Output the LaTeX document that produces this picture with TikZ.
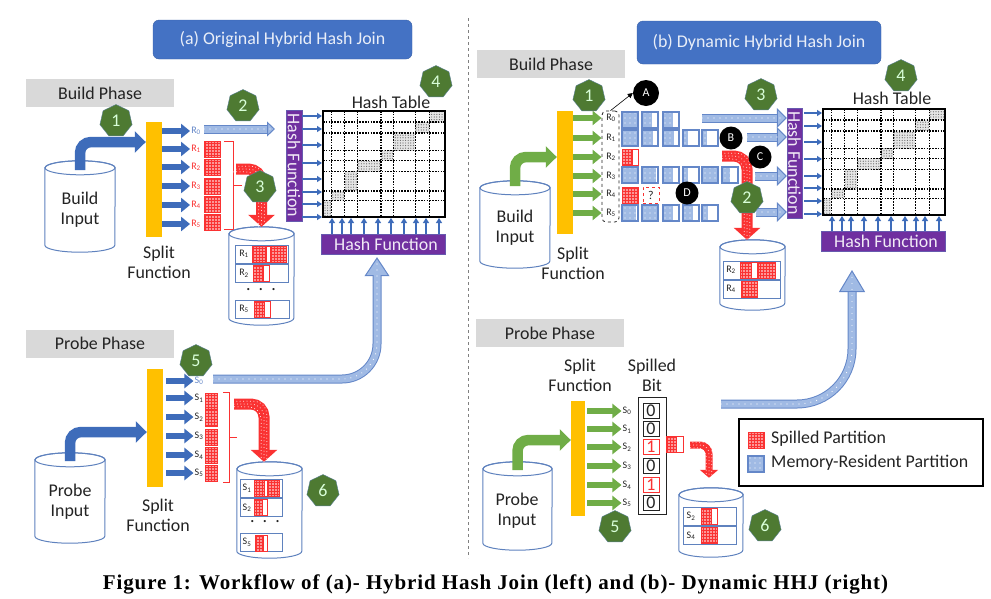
\documentclass[tikz,border=0pt]{standalone}
\usepackage{fontspec}
\setmainfont{Carlito}
\newfontfamily\capfont[LetterSpace=4.2]{Liberation Serif}
\usepackage{tikz}
\usepackage{xcolor}
\usetikzlibrary{arrows.meta,patterns.meta}
\usetikzlibrary{shapes.geometric}
\definecolor{titleblue}{RGB}{68,114,196}
\definecolor{flowblue}{RGB}{62,108,186}
\definecolor{flowgreen}{RGB}{112,173,71}
\definecolor{badgegreen}{RGB}{78,122,50}
\definecolor{splitorange}{RGB}{255,192,0}
\definecolor{hashpurple}{RGB}{112,48,160}
\definecolor{spillred}{RGB}{250,50,50}
\definecolor{memfill}{RGB}{160,186,228}
\definecolor{memedge}{RGB}{100,135,200}
\definecolor{cyledge}{RGB}{95,130,190}
\definecolor{inkgray}{RGB}{35,35,35}
\newcommand{\bigfont}{\fontsize{17.9}{20}\selectfont}
\newcommand{\tinyfont}{\fontsize{10}{11}\selectfont}
\newcommand{\drum}[2]{%
    \draw[draw=cyledge, fill=white, line width=1] ([yshift=-7pt]#1.north west) -- ([yshift=7pt]#1.south west)
        arc[start angle=180, end angle=0, x radius=#2, y radius=7] -- ([yshift=-7pt]#1.north east)
        arc[start angle=0, end angle=-180, x radius=#2, y radius=7] -- cycle;
    \draw[draw=cyledge, line width=1] ([yshift=-7pt]#1.north) ellipse [x radius=#2, y radius=7];
}
\tikzset{
  phasebox/.style={fill=gray!30, minimum width=148, minimum height=28, inner sep=0, text=inkgray, font=\bigfont},
  titlebox/.style={fill=titleblue, draw=titleblue!85!black, rounded corners=6, inner sep=0, text=white!88!titleblue, font=\bigfont},
  badge/.style={regular polygon, regular polygon sides=7, fill=badgegreen, draw=cyledge!70!badgegreen, minimum size=33, inner sep=0, text=white!85!green, font=\bigfont},
  blackdot/.style={circle, fill=black, minimum size=23, inner sep=0, text=white, font=\fontsize{12}{13}\selectfont},
  store/.style={inner sep=0},
  splitbar/.style={fill=splitorange, inner sep=0, minimum width=16},
  hashbox/.style={fill=hashpurple, draw=cyledge!50!hashpurple, inner sep=0, text=white!90!hashpurple, font=\bigfont},
  plain/.style={inner sep=0, text=inkgray, align=center, font=\bigfont},
  partlabel/.style={inner sep=1, font=\tinyfont},
  diskrow/.style={draw=cyledge, fill=white, line width=1, inner sep=0, minimum height=18},
  spillcell/.style={preaction={fill=spillred}, pattern={Dots[radius=.8pt, distance=3pt]}, pattern color=white, draw=spillred},
  memcell/.style={preaction={fill=memfill}, pattern={Dots[radius=.7pt, distance=5pt]}, pattern color=white},
  memframe/.style={draw=memedge, line width=1.2},
  tablecell/.style={preaction={fill=gray!20}, pattern={Dots[radius=.6pt, distance=2.6pt]}, pattern color=black!60},
  tablegrid/.style={line width=1.4, dash pattern=on 1.5pt off 1.3pt},
  bigflow/.style={line width=10.5, rounded corners=11, -{Triangle[length=11pt,width=21pt]}},
  smallflow/.style={line width=6, -{Triangle[length=9pt,width=14pt]}},
  hasharrow/.style={draw=flowblue, line width=2, -{Triangle[length=5pt,width=6pt]}},
  memflow/.style n args={2}{draw=memedge, line width=9, -{Triangle[length=#1pt,width=#2pt,fill=memfill,line width=1pt]},
    postaction={draw=memfill, line width=7, -, shorten >=#1pt},
    postaction={draw=white, line width=1.2, line cap=round, dash pattern=on 0pt off 6pt, -, shorten >=4}},
  spillflow/.style={draw=spillred, line width=11, rounded corners=13, -{Triangle[length=12pt,width=26pt]},
    postaction={draw=white, line width=1, line cap=round, dash pattern=on 0pt off 3.4pt, -},
    postaction={transform canvas={shift={(2.8pt,2.8pt)}}, draw=white, line width=1, line cap=round, dash pattern=on 0pt off 3.4pt, -},
    postaction={transform canvas={shift={(-2.8pt,-2.8pt)}}, draw=white, line width=1, line cap=round, dash pattern=on 0pt off 3.4pt, -}},
}

\begin{document}
\begin{tikzpicture}[x=1pt, y=-1pt]
    \useasboundingbox (0,0) rectangle (991,598);

    % titles and divider
    \node[titlebox, minimum width=259, minimum height=39] (titleL) at (282.5,39.5) {(a) Original Hybrid Hash Join};
    \node[titlebox, minimum width=244, minimum height=43] (titleR) at (759,42.5) {(b) Dynamic Hybrid Hash Join};
    \draw[gray, dashed, line width=0.8] (468,18) -- (468,558);
    \node[phasebox] (buildL) at (100,93) {Build Phase};
    \node[phasebox] (probeL) at (100,343.5) {Probe Phase};
    \node[phasebox] (buildR) at (551,64) {Build Phase};
    \node[phasebox] (probeR) at (550,333) {Probe Phase};

    % hash tables
    \foreach \tx/\ty/\tname in {323/111/tableL, 823/109/tableR} {
        \begin{scope}[shift={(\tx,\ty)}]
            \foreach \xa/\xb/\ya/\yb in {0/8.4/89.2/106, 8.4/21.7/80.1/89.2, 21.7/34.4/60.6/80.1, 34.4/57.8/49.5/60.6, 57.8/70.2/39.7/49.5, 70.2/92.2/21.9/39.7, 92.2/106.3/11.1/21.9, 106.3/122/0/11.1}
                \path[tablecell] (\xa,\ya) rectangle (\xb,\yb);
            \foreach \gx in {8.4,21.7,34.4,57.8,70.2,92.2,106.3}
                \draw[tablegrid] (\gx,0) -- (\gx,106);
            \foreach \gy in {11.1,21.9,39.7,49.5,60.6,80.1,89.2}
                \draw[tablegrid] (0,\gy) -- (122,\gy);
            \node[draw, line width=2, minimum width=122, minimum height=106, inner sep=0] (\tname) at (61,53) {};
        \end{scope}
    }
    \node[plain] (tabletextL) at (391,102) {Hash Table};
    \node[plain] (tabletextR) at (892,98) {Hash Table};
    \node[hashbox, minimum width=111, minimum height=16, rotate=-90] (hashsideL) at (294,165.5) {Hash Function};
    \node[hashbox, minimum width=110, minimum height=15, rotate=-90] (hashsideR) at (794.5,163) {Hash Function};
    \node[hashbox, minimum width=124, minimum height=20] (hashlowL) at (383,244) {\hspace{6pt}Hash Function};
    \node[hashbox, minimum width=124, minimum height=20] (hashlowR) at (883,241) {\hspace{6pt}Hash Function};
    \foreach \yy in {116,129,145,163,179,192,204,217}
        \draw[hasharrow] (hashsideL.north |- 0,\yy) -- (tableL.west |- 0,\yy);
    \foreach \yy in {113,126,142,159,176,188,201,214}
        \draw[hasharrow, shorten <=2] (hashsideR.north |- 0,\yy) -- (tableR.west |- 0,\yy);
    \foreach \xx in {332,342,351,364,378,391,404,416,426,439}
        \draw[hasharrow] (\xx,0 |- hashlowL.north) -- (\xx,0 |- tableL.south);
    \foreach \xx in {832,842,851,864,878,891,905,916,925,939}
        \draw[hasharrow] (\xx,0 |- hashlowR.north) -- (\xx,0 |- tableR.south);

    % build phase, left
    \node[store, minimum width=70, minimum height=91] (inputBL) at (80,206.5) {};
    \drum{inputBL}{35}
    \node[plain] (inputtextBL) at (80,210) {Build\\Input};
    \node[splitbar, minimum height=115] (splitBL) at (154,179.5) {};
    \node[plain] (splittextBL) at (159,262) {Split\\Function};
    \draw[bigflow, flowblue] (inputBL.center |- 0,170) |- (splitBL.west |- 0,142);
    \foreach \i/\yy in {0/131, 1/149, 2/167, 3/186, 4/205, 5/224} {
        \node[partlabel, text=spillred] (rL\i) at (196,\yy) {R\textsubscript{\i}};
        \draw[smallflow, flowblue] (splitBL.east |- rL\i) -- (rL\i.west);
    }
    \node[partlabel, text=memedge, fill=white] at (rL0) {R\textsubscript{0}};
    \foreach \yy in {149,167,186,204,222}
        \draw[spillcell] (204,\yy-8) rectangle ++(16,16);
    \draw[spillred, line width=0.8] (224,141) -- (233,141) -- (233,229) -- (224,229) (233,185) -- (242,185);
    \coordinate (spillstartBL) at (236,169);
    \node[store, minimum width=65, minimum height=98] (diskBL) at (261.5,276) {};
    \drum{diskBL}{32.5}
    \draw[spillflow] (spillstartBL) -| (diskBL.north);
    \coordinate (memstartBL) at (204,129);
    \coordinate (memendBL) at (275,129);
    \draw[memflow={8}{15}] (memstartBL) -- (memendBL);

    \node[diskrow, minimum width=53] (rowR1) at (261.5,254) {};
    \node[diskrow, minimum width=53] (rowR2) at (261.5,273.5) {};
    \node[diskrow, minimum width=54] (rowR5) at (262,309) {};
    \node[partlabel, text=inkgray] at (244,0 |- rowR1) {R\textsubscript{1}};
    \node[partlabel, text=inkgray] at (244,0 |- rowR2) {R\textsubscript{2}};
    \node[partlabel, text=inkgray] at (244,0 |- rowR5) {R\textsubscript{5}};
    \node[plain] (dotsBL) at (261,290) {.\ \ .\ \ .};
    \foreach \px/\py/\pw/\pf in {252/246/18/14, 270/246/16/16, 253/265/16/10, 254/301/16/10} {
        \draw[spillred, fill=white] (\px,\py) rectangle ++(\pw,16);
        \draw[spillcell] (\px,\py) rectangle ++(\pf,16);
    }

    % probe phase, left
    \node[store, minimum width=70, minimum height=90] (inputPL) at (70,498) {};
    \drum{inputPL}{35}
    \node[plain] (inputtextPL) at (70,502) {Probe\\Input};
    \node[splitbar, minimum height=118] (splitPL) at (155,428) {};
    \node[plain] (splittextPL) at (158,515) {Split\\Function};
    \draw[bigflow, flowblue] (inputPL.center |- 0,461) |- (splitPL.west |- 0,432);
    \foreach \i/\yy in {0/381, 1/398, 2/417, 3/436, 4/455, 5/473} {
        \node[partlabel, text=inkgray] (sL\i) at (199,\yy) {S\textsubscript{\i}};
        \draw[smallflow, flowblue] (splitPL.east |- sL\i) ++(3,0) -- (sL\i.west);
    }
    \node[partlabel, text=memedge, fill=white] at (sL0) {S\textsubscript{0}};
    \foreach \yy in {401,418,437,455,473}
        \draw[spillcell] (205,\yy-8) rectangle ++(12,16);
    \draw[spillred, line width=0.8] (223,392) -- (229,392) -- (229,482) -- (223,482) (229,437) -- (237,437);
    \coordinate (spillstartPL) at (234,404);
    \node[store, minimum width=65, minimum height=96] (diskPL) at (269.5,510) {};
    \drum{diskPL}{32.5}
    \draw[spillflow] (spillstartPL) -| (diskPL.north -| 264,0);
    \coordinate (memstartPL) at (213,379);
    \draw[memflow={19}{25}, rounded corners=35, shorten >=3] (memstartPL) -| (hashlowL.south -| 377,0);

    \node[diskrow, minimum width=42] (rowS1) at (261,488) {};
    \node[diskrow, minimum width=42] (rowS2) at (261,507.5) {};
    \node[diskrow, minimum width=42] (rowS5) at (261,542.5) {};
    \node[partlabel, text=inkgray] at (247,0 |- rowS1) {S\textsubscript{1}};
    \node[partlabel, text=inkgray] at (247,0 |- rowS2) {S\textsubscript{2}};
    \node[partlabel, text=inkgray] at (247,0 |- rowS5) {S\textsubscript{5}};
    \node[plain] (dotsPL) at (265,522) {.\ \ .\ \ .};
    \foreach \px/\py/\pw/\pf in {254/480/13/10, 267/480/12/12, 254/499/13/8, 255/535/12/8} {
        \draw[spillred, fill=white] (\px,\py) rectangle ++(\pw,16);
        \draw[spillcell] (\px,\py) rectangle ++(\pf,16);
    }

    % build phase, right
    \node[store, minimum width=70, minimum height=87] (inputBR) at (515,224.5) {};
    \drum{inputBR}{35}
    \node[plain] (inputtextBR) at (515,227.5) {Build\\Input};
    \node[splitbar, minimum height=123] (splitBR) at (565,172.5) {};
    \node[plain] (splittextBR) at (573,263) {Split\\Function};
    \draw[bigflow, flowgreen] (inputBR.center |- 0,186) |- (splitBR.west |- 0,157);
    \node[draw=inkgray, dashed, rounded corners=4, line width=0.8, minimum width=17, minimum height=111, inner sep=0] (partgroup) at (610.5,166.5) {};
    \foreach \i/\yy in {0/118, 1/138, 2/157, 3/176, 4/194, 5/213} {
        \node[partlabel, text=inkgray] (rR\i) at (611,\yy) {R\textsubscript{\i}};
        \draw[smallflow, flowgreen] (splitBR.east |- rR\i) -- (partgroup.west |- rR\i);
    }
    % resident partitions
    \foreach \bx/\by/\bfrac in {622/112/1, 642/112/.6, 663/112/.6,
                                622/130/1, 642/130/.7, 663/130/.7, 683/130/.3, 702/130/.3,
                                622/167/1, 642/167/.9, 663/167/.6, 683/167/.3, 702/167/1, 722/167/.5,
                                622/205/.9, 642/205/1, 663/205/.6, 683/205/.6, 702/205/.4} {
        \path[memcell] (\bx,\by) rectangle ++(16*\bfrac,16);
        \draw[memframe] (\bx,\by) rectangle ++(16,16);
    }
    \draw[spillred, fill=white] (622,149) rectangle ++(16,16);
    \draw[spillcell] (622,149) rectangle ++(10,16);
    \draw[spillcell] (622,187) rectangle ++(16,16);
    \node[draw=spillred, dashed, line width=0.9, minimum size=16, inner sep=0, text=inkgray, font=\fontsize{12}{13}\selectfont] (unknown) at (651,195) {?};
    % memory flows
    \foreach \sy/\sx in {118/702, 137/747, 176/755, 212/756} {
        \coordinate (memstart\sx) at (\sx,\sy);
        \draw[memflow={10}{20}] (memstart\sx) -- (hashsideR.south |- 0,\sy);
    }
    \node[store, minimum width=65, minimum height=70] (diskBR) at (752.5,275) {};
    \drum{diskBR}{32.5}
    \coordinate (spillstartBR) at (722,156);
    \draw[spillflow] (spillstartBR) -| (diskBR.north -| 747,0);
    \node[diskrow, minimum width=57] (rowRR2) at (751.5,270) {};
    \node[diskrow, minimum width=57] (rowRR4) at (751.5,289) {};
    \node[partlabel, text=inkgray] at (731,0 |- rowRR2) {R\textsubscript{2}};
    \node[partlabel, text=inkgray] at (731,0 |- rowRR4) {R\textsubscript{4}};
    \foreach \px/\py/\pw/\pf in {740/262/17/11, 758/262/17/17, 741/281/16/16} {
        \draw[spillred, fill=white] (\px,\py) rectangle ++(\pw,16);
        \draw[spillcell] (\px,\py) rectangle ++(\pf,16);
    }
    \node[blackdot, minimum size=26] (markA) at (646,93) {A};
    \node[blackdot] (markB) at (731,138) {B};
    \node[blackdot] (markC) at (760,157) {C};
    \node[blackdot] (markD) at (687,193) {D};
    \draw[-{Triangle[length=5pt,width=5pt]}, line width=0.6] (partgroup.north) -- (markA.west);

    % probe phase, right
    \node[store, minimum width=69, minimum height=88] (inputPR) at (517.5,506) {};
    \drum{inputPR}{34.5}
    \node[plain] (inputtextPR) at (517,510.5) {Probe\\Input};
    \node[splitbar, minimum width=14, minimum height=115] (splitPR) at (578,458.5) {};
    \node[plain] (splittextPR) at (580,375) {Split\\Function};
    \node[plain] (bittextPR) at (652,375) {Spilled\\Bit};
    \draw[bigflow, flowgreen] (inputPR.center |- 0,470) |- (splitPR.west |- 0,440);
    \node[draw=inkgray, line width=1, minimum width=28, minimum height=117, inner sep=0] (bitframe) at (652,455.5) {};
    \foreach \i/\yy/\bit/\bitcol in {0/411/0/inkgray, 1/429/0/inkgray, 2/447/1/spillred, 3/466/0/inkgray, 4/485/1/spillred, 5/503/0/inkgray} {
        \node[draw=\bitcol, text=\bitcol, line width=1, minimum width=16, minimum height=15, inner sep=0, font=\bigfont] (bit\i) at (651,\yy) {\bit};
        \node[partlabel, text=inkgray] (sR\i) at (627,\yy) {S\textsubscript{\i}};
        \draw[smallflow, flowgreen] (splitPR.east |- sR\i) ++(2,0) -- (sR\i.west);
    }
    \draw[spillred, fill=white] (666,436) rectangle ++(17,16);
    \draw[spillcell] (666,436) rectangle ++(10,16);
    \coordinate (spillstartPR) at (690,445);
    \node[store, minimum width=64, minimum height=69] (diskPR) at (711,522.5) {};
    \drum{diskPR}{32}
    \draw[spillflow, line width=7, rounded corners=9, -{Triangle[length=8pt,width=18pt]}] (spillstartPR) -| ([yshift=10pt]diskPR.north -| 709,0);
    \node[diskrow, minimum width=53] (rowS2R) at (709.5,516) {};
    \node[diskrow, minimum width=53] (rowS4R) at (709.5,535.5) {};
    \node[partlabel, text=inkgray] at (691,0 |- rowS2R) {S\textsubscript{2}};
    \node[partlabel, text=inkgray] at (691,0 |- rowS4R) {S\textsubscript{4}};
    \foreach \px/\py/\pw/\pf in {701/508/16/10, 701/527/16/16} {
        \draw[spillred, fill=white] (\px,\py) rectangle ++(\pw,16);
        \draw[spillcell] (\px,\py) rectangle ++(\pf,16);
    }
    \coordinate (memstartPR) at (721,404);
    \coordinate (memtipPR) at (852,270);
    \draw[memflow={22}{26}, rounded corners=55] (memstartPR) -| (memtipPR);

    % legend
    \node[draw=black, line width=2, minimum width=244, minimum height=67, inner sep=0] (legend) at (860.5,452.5) {};
    \draw[spillcell] (748,432) rectangle ++(16,16);
    \path[memcell] (748,456) rectangle ++(16,16);
    \draw[memframe] (748,456) rectangle ++(16,16);
    \node[plain, anchor=west] (legendspill) at (771,439) {Spilled Partition};
    \node[plain, anchor=west] (legendmem) at (771,463) {Memory-Resident Partition};

    % badges
    \node[badge] (stepB1) at (116,121) {1};
    \node[badge] (stepB2) at (243,106) {2};
    \node[badge] (stepB3) at (260,187) {3};
    \node[badge] (stepB4) at (436,82) {4};
    \node[badge] (stepP5) at (196,361) {5};
    \node[badge] (stepP6) at (323,491) {6};
    \node[badge] (stepR1) at (589,96) {1};
    \node[badge] (stepR2) at (747,198) {2};
    \node[badge] (stepR3) at (761,95) {3};
    \node[badge] (stepR4) at (901,76) {4};
    \node[badge] (stepR5) at (615,527) {5};
    \node[badge] (stepR6) at (765,526) {6};

    % caption
    \node[inner sep=0, font=\capfont\bfseries\fontsize{21}{22}\selectfont] (caption) at (495.5,584) {Figure 1: Workflow of (a)- Hybrid Hash Join (left) and (b)- Dynamic HHJ (right)};
\end{tikzpicture}
\end{document}
